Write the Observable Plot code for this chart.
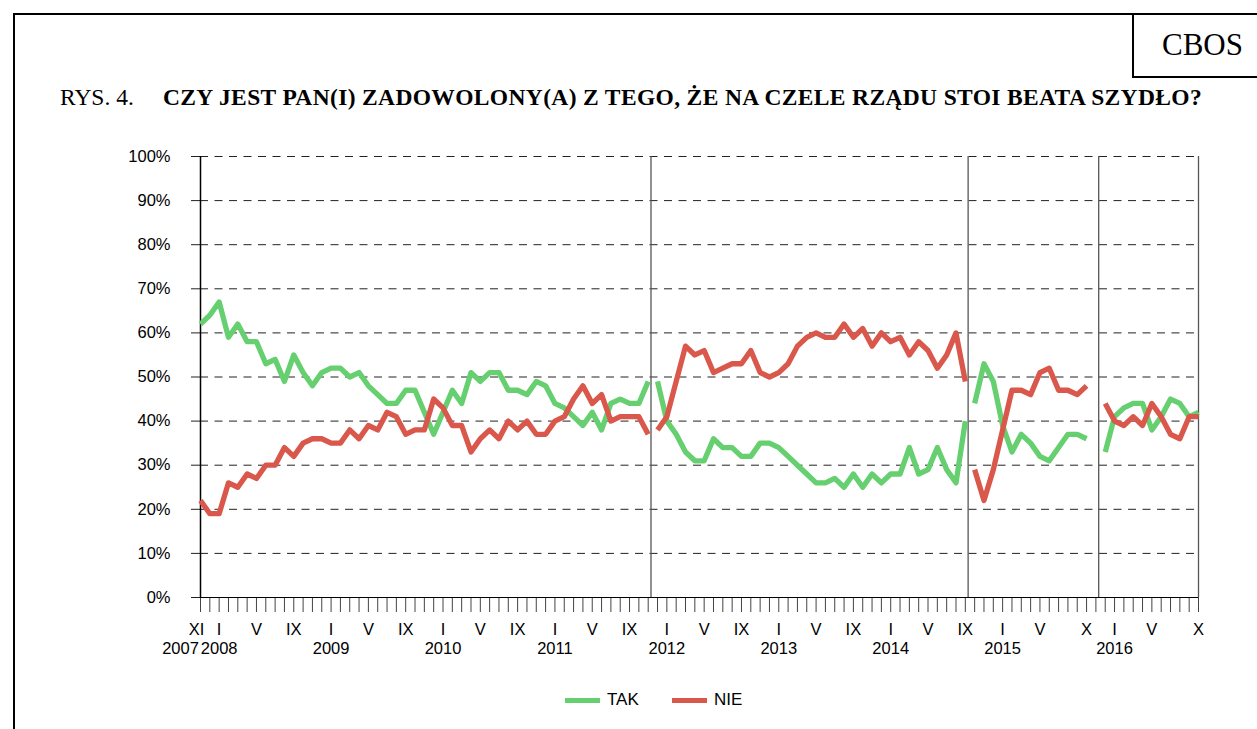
<!DOCTYPE html>
<html>
<head>
<meta charset="utf-8">
<script src="https://cdn.jsdelivr.net/npm/d3@7"></script>
<script src="https://cdn.jsdelivr.net/npm/@observablehq/plot@0.6"></script>
<style>
  html, body { margin: 0; padding: 0; background: #fff; }
  #page { position: relative; width: 1257px; height: 729px; overflow: hidden; background: #fff; }
  #frame { position: absolute; left: 13px; top: 13px; width: 1260px; height: 740px; border-left: 2px solid #000; border-top: 2px solid #000; }
  #cbos { position: absolute; left: 1132px; top: 13px; width: 140px; height: 65px; border-left: 2px solid #000; border-bottom: 2px solid #000;
          font-family: "Liberation Serif", "Times New Roman", serif; font-size: 31px; line-height: 63px; padding-left: 28px; box-sizing: border-box; }
  .title { position: absolute; top: 86px; font-family: "Liberation Serif", "Times New Roman", serif; font-size: 23.5px; line-height: 23.5px; white-space: nowrap; }
  #chart { position: absolute; left: 0; top: 0; }
  #legend { position: absolute; top: 690px; left: 0; width: 1257px; font-family: "Liberation Sans", Arial, sans-serif; font-size: 17px; }
  .lg { position: absolute; display: flex; align-items: center; }
  .sw { width: 35px; height: 5px; margin-right: 7px; }
</style>
</head>
<body>
<div id="page">
  <div id="chart"></div>
  <div id="frame"></div>
  <div id="cbos">CBOS</div>
  <div class="title" style="left:60px">RYS. 4.</div>
  <div class="title" id="mainTitle" style="left:163px;font-weight:bold;letter-spacing:0.35px">CZY JEST PAN(I) ZADOWOLONY(A) Z TEGO, ŻE NA CZELE RZĄDU STOI BEATA SZYDŁO?</div>
  <div id="legend"></div>
</div>
<script>
// Monthly survey results, index 0 = XI 2007 ... 107 = X 2016 (null = no survey)
const tak = [
  62,64,67,59,62,58,58,53,54,49,55,51,48,51,52,52,50,51,48,46,44,44,
  47,47,42,37,42,47,44,51,49,51,51,47,47,46,49,48,44,43,41,39,42,38,44,45,44,44,49,
  49,40,37,33,31,31,36,34,34,32,32,35,35,34,32,30,28,26,26,27,25,28,25,28,26,28,28,34,28,29,34,29,26,40,
  44,53,49,39,33,37,35,32,31,34,37,37,36,
  null,
  33,41,43,44,44,38,41,45,44,41,42
];
const nie = [
  22,19,19,26,25,28,27,30,30,34,32,35,36,36,35,35,38,36,39,38,42,41,
  37,38,38,45,43,39,39,33,36,38,36,40,38,40,37,37,40,41,45,48,44,46,40,41,41,41,37,
  38,41,49,57,55,56,51,52,53,53,56,51,50,51,53,57,59,60,59,59,62,59,61,57,60,58,59,55,58,56,52,55,60,49,
  29,22,29,38,47,47,46,51,52,47,47,46,48,
  null,
  44,40,39,41,39,44,41,37,36,41,41
];
const seriesNames = ["TAK", "NIE"];
const seriesColors = ["#66cf6f", "#d9574b"];
// first month index of each government period
const periodStarts = [0, 49, 83, 97];
// separators between periods (month index positions)
const separators = [48.3, 82.3, 96.3, 107];
// month tick labels
const monthTickIndex = [2,6,10,14,18,22,26,30,34,38,42,46,50,54,58,62,66,70,74,78,82,86,90,95,98,102,107];
const monthTickLabels = ["I","V","IX","I","V","IX","I","V","IX","I","V","IX","I","V","IX","I","V","IX","I","V","IX","I","V","X","I","V","X"];
const firstMonthLabel = "XI";
const yearIndex = [2,14,26,38,50,62,74,86,98];
const yearLabels = ["2008","2009","2010","2011","2012","2013","2014","2015","2016"];
const firstYearLabel = "2007";
const nMonths = 108;

const periodOf = i => d3.bisectRight(periodStarts, i) - 1;
const rows = [];
[tak, nie].forEach((arr, s) => {
  arr.forEach((v, i) => {
    if (v != null) rows.push({i, v, series: seriesNames[s], period: periodOf(i)});
  });
});

const monthLabelOf = new Map(monthTickIndex.map((d, k) => [d, monthTickLabels[k]]));
const yearLabelOf = new Map(yearIndex.map((d, k) => [d, yearLabels[k]]));

const chart = Plot.plot({
  width: 1257,
  height: 729,
  marginLeft: 200,
  marginRight: 59,
  marginTop: 156,
  marginBottom: 132,
  style: {fontFamily: '"Liberation Sans", Arial, sans-serif', fontSize: "16.5px", color: "#000", background: "transparent"},
  x: {type: "linear", domain: [0, nMonths - 1], label: null},
  y: {domain: [0, 100], label: null},
  color: {domain: seriesNames, range: seriesColors},
  marks: [
    Plot.ruleY(d3.range(10, 101, 10), {stroke: "#222", strokeWidth: 1, strokeDasharray: "8,6.5"}),
    Plot.ruleX(separators, {stroke: "#555", strokeWidth: 1.3}),
    Plot.axisY({ticks: d3.range(0, 101, 10), tickFormat: d => d + "%", tickSize: 9, tickPadding: 21, stroke: "#222", label: null}),
    Plot.axisX({ticks: d3.range(nMonths), tickSize: 15, tickFormat: () => "", stroke: "#444", label: null}),
    Plot.axisX({ticks: monthTickIndex, tickSize: 0, tickPadding: 26, tickFormat: d => monthLabelOf.get(d), label: null}),
    Plot.axisX({ticks: [0], tickSize: 0, tickPadding: 26, dx: -4, tickFormat: () => firstMonthLabel, label: null}),
    Plot.axisX({ticks: yearIndex, tickSize: 0, tickPadding: 45, tickFormat: d => yearLabelOf.get(d), label: null}),
    Plot.axisX({ticks: [0], tickSize: 0, tickPadding: 45, dx: -20, tickFormat: () => firstYearLabel, label: null}),
    Plot.ruleX([0], {stroke: "#000", strokeWidth: 1.5}),
    Plot.ruleY([0], {stroke: "#000", strokeWidth: 1.2}),
    Plot.line(rows, {x: "i", y: "v", z: d => d.series + d.period, stroke: "series", strokeWidth: 5.3, strokeLinejoin: "round", strokeLinecap: "butt"})
  ]
});
document.getElementById("chart").appendChild(chart);

// legend
const legend = document.getElementById("legend");
const legendLeft = [565, 672];
seriesNames.forEach((name, k) => {
  const item = document.createElement("div");
  item.className = "lg";
  item.style.left = legendLeft[k] + "px";
  const sw = document.createElement("div");
  sw.className = "sw";
  sw.style.background = seriesColors[k];
  const t = document.createElement("span");
  t.textContent = name;
  item.appendChild(sw);
  item.appendChild(t);
  legend.appendChild(item);
});
</script>
</body>
</html>
